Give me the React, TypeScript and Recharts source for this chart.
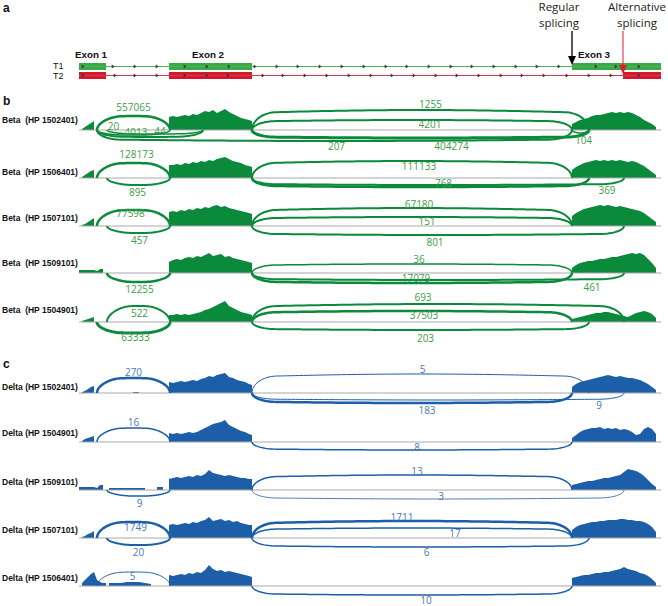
import React from 'react';
import { ComposedChart, Area, Line, Scatter, XAxis, YAxis, ReferenceLine, ReferenceArea } from 'recharts';

document.body.style.margin = '0';

// genomic coordinate (arbitrary units, 0 = exon 1 start)
const LEFT_POS = [0, 3, 6, 9, 12, 15, 18, 21, 24, 27];
const MID_POS = [30, 36, 42, 48, 54, 60, 66, 72, 78, 84];
const E2_POS = [90, 94, 98, 102, 106, 110, 114, 118, 122, 126, 130, 134, 138, 142, 146, 150, 154, 158, 162, 166, 170, 173];
const E3_POS = [493, 497, 501, 505, 509, 513, 517, 521, 525, 529, 533, 537, 541, 545, 549, 553, 557, 561, 565, 569, 573, 577, 581];

// gene model
const T1_EXONS = [[0, 27], [90, 173], [493, 582]];
const T2_EXONS = [[0, 27], [90, 173], [544, 582]];
const T1_CHEVRONS = [4, 34, 56, 78, 106, 128, 150, 176, 198, 219, 241, 263, 285, 307, 328, 350, 372, 393, 415, 437, 458, 480, 517, 537, 560];
const T2_CHEVRONS = [4, 36, 56, 78, 106, 128, 149, 184, 204, 226, 248, 270, 292, 313, 335, 357, 378, 400, 422, 443, 465, 488, 510, 532, 560];
const EXON_LABELS = ['Exon 1', 'Exon 2', 'Exon 3'];
const REGULAR_SITE = 493;
const ALT_SITE = 544;

// Beta samples
const BETA_NAMES = ['Beta  (HP 1502401)', 'Beta  (HP 1506401)', 'Beta  (HP 1507101)', 'Beta  (HP 1509101)', 'Beta  (HP 1504901)'];
const BETA_LEFT = [
  [0, 1, 3, 5, 7, 9, 0, 0, 0, 0],
  [0, 1, 3, 5, 7, 8, 0, 0, 0, 0],
  [0, 1, 2, 4, 6, 8, 0, 0, 0, 0],
  [3, 3, 3, 3, 3, 3, 2, 4, 4, 0],
  [0, 1, 2, 3, 4, 5, 0, 0, 0, 0],
];
const BETA_MID = [
  [0, 0, 0, 0, 0, 0, 0, 0, 0, 0],
  [0, 0, 0, 0, 0, 0, 0, 0, 0, 0],
  [0, 0, 0, 0, 0, 0, 0, 0, 0, 0],
  [0, 0, 0, 1, 0, 0, 0, 0, 1, 0],
  [0, 0, 0, 0, 0, 0, 0, 0, 0, 0],
];
const BETA_E2 = [
  [13, 14, 13, 14, 15, 14, 16, 15, 17, 19, 18, 20, 17, 19, 21, 18, 16, 14, 12, 11, 10, 9],
  [13, 13, 14, 13, 15, 14, 16, 15, 17, 16, 18, 17, 19, 20, 21, 19, 17, 16, 15, 13, 12, 11],
  [14, 15, 14, 16, 15, 17, 16, 18, 17, 19, 18, 20, 21, 19, 20, 18, 17, 16, 15, 14, 13, 12],
  [11, 13, 14, 13, 15, 16, 15, 17, 16, 18, 20, 17, 18, 19, 16, 17, 15, 14, 13, 12, 11, 10],
  [7, 7, 8, 7, 8, 7, 8, 9, 10, 12, 13, 15, 17, 19, 21, 16, 14, 12, 10, 9, 8, 7],
];
const BETA_E3 = [
  [6, 8, 10, 11, 12, 14, 15, 15, 16, 17, 18, 17, 18, 17, 18, 17, 15, 13, 10, 8, 6, 3, 0],
  [8, 11, 13, 15, 16, 17, 18, 17, 18, 17, 18, 17, 18, 17, 16, 17, 16, 14, 12, 9, 6, 3, 0],
  [10, 13, 15, 17, 18, 19, 20, 21, 20, 21, 20, 19, 20, 19, 18, 17, 16, 15, 13, 10, 7, 4, 0],
  [5, 8, 10, 11, 12, 12, 13, 14, 14, 15, 16, 16, 17, 18, 19, 20, 19, 20, 18, 14, 10, 5, 0],
  [3, 4, 5, 6, 7, 8, 9, 9, 10, 10, 9, 8, 7, 6, 5, 7, 9, 10, 11, 10, 8, 4, 0],
];
// [from, to, reads, side]  side 1 = above, -1 = below
const BETA_JUNCTIONS = [
  [[18, 91, 557065, 1], [173, 510, 1255, 1], [173, 493, 4201, 1], [173, 510, 404274, -1], [18, 493, 207, -1], [18, 124, 4013, -1], [18, 91, 20, -1], [28, 124, 44, -1], [493, 510, 104, -1]],
  [[18, 91, 128173, 1], [28, 91, 895, -1], [173, 493, 111133, 1], [173, 510, 768, -1], [173, 545, 369, -1]],
  [[18, 91, 77598, 1], [28, 91, 457, -1], [173, 493, 67180, 1], [173, 493, 151, 1], [173, 545, 801, -1]],
  [[28, 91, 12255, -1], [173, 493, 36, 1], [173, 493, 17079, -1], [173, 545, 461, -1]],
  [[28, 91, 522, 1], [18, 91, 63333, -1], [173, 545, 693, 1], [173, 493, 37503, 1], [173, 510, 203, -1]],
];

// Delta samples
const DELTA_NAMES = ['Delta (HP 1502401)', 'Delta (HP 1504901)', 'Delta (HP 1509101)', 'Delta (HP 1507101)', 'Delta (HP 1506401)'];
const DELTA_LEFT = [
  [0, 1, 2, 4, 6, 7, 0, 0, 0, 0],
  [0, 1, 3, 4, 5, 6, 0, 0, 0, 0],
  [3, 3, 3, 3, 3, 3, 2, 5, 5, 0],
  [0, 1, 2, 4, 5, 7, 0, 0, 0, 0],
  [0, 3, 6, 9, 12, 14, 6, 4, 3, 3],
];
const DELTA_MID = [
  [0, 0, 0, 0, 1, 1, 0, 0, 0, 0],
  [0, 0, 0, 0, 0, 0, 0, 0, 0, 0],
  [2, 2, 2, 2, 2, 2, 2, 0, 3, 3],
  [0, 0, 0, 0, 0, 0, 0, 0, 0, 0],
  [3, 3, 3, 4, 4, 4, 3, 2, 0, 1],
];
const DELTA_E2 = [
  [11, 10, 11, 12, 11, 12, 13, 12, 14, 15, 17, 16, 18, 19, 20, 16, 15, 13, 12, 11, 9, 8],
  [9, 8, 9, 8, 9, 10, 9, 10, 12, 14, 16, 18, 19, 20, 22, 17, 15, 13, 11, 10, 8, 7],
  [11, 12, 13, 12, 13, 14, 13, 15, 14, 16, 20, 17, 16, 15, 14, 15, 14, 13, 12, 12, 11, 11],
  [13, 14, 13, 14, 15, 14, 16, 15, 17, 18, 21, 17, 18, 19, 17, 18, 16, 17, 15, 14, 13, 13],
  [11, 10, 11, 12, 11, 13, 12, 14, 13, 16, 21, 17, 15, 16, 14, 15, 14, 13, 12, 11, 10, 9],
];
const DELTA_E3 = [
  [6, 9, 11, 12, 13, 14, 15, 16, 17, 18, 17, 16, 17, 16, 15, 15, 14, 13, 11, 9, 6, 3, 0],
  [4, 7, 10, 12, 13, 14, 14, 15, 13, 14, 13, 14, 12, 13, 12, 10, 7, 8, 13, 15, 13, 8, 0],
  [5, 6, 7, 8, 9, 9, 10, 11, 12, 12, 13, 14, 15, 18, 21, 20, 19, 17, 14, 10, 6, 3, 0],
  [8, 11, 13, 14, 15, 16, 16, 17, 17, 18, 18, 18, 19, 19, 18, 18, 17, 17, 16, 14, 11, 6, 0],
  [8, 9, 10, 11, 11, 12, 13, 13, 14, 14, 15, 16, 17, 19, 17, 16, 15, 13, 12, 10, 7, 3, 0],
];
const DELTA_JUNCTIONS = [
  [[18, 91, 270, 1], [173, 510, 5, 1], [173, 493, 183, -1], [173, 545, 9, -1]],
  [[18, 91, 16, 1], [173, 493, 8, -1]],
  [[28, 91, 9, -1], [173, 493, 13, 1], [173, 545, 3, -1]],
  [[18, 91, 1749, 1], [28, 91, 20, -1], [173, 493, 1711, 1], [173, 493, 17, 1], [173, 510, 6, -1]],
  [[18, 91, 5, 1], [173, 493, 10, -1]],
];

// drawing style of each arc: [height, strokeWidth, label dx, label y]
const BETA_ARC_STYLE = [
  [[14, 2.5, 0, 23], [20, 2, 10, 26], [10, 2, 18, 6], [8, 3, 31, -16], [11, 2, 2, -16], [7, 2, -14, -2], [5, 1.5, -20, 4], [4, 1.5, 5, -1], [3, 1.5, 3, -10]],
  [[15, 2.5, 3, 24], [7, 2, -1, -14], [17, 2, 7, 12], [9, 2.5, 23, -5], [7, 2, 169, -12]],
  [[16, 2.5, -3, 13], [7, 2, 1, -14], [18, 2, 7, 22], [9, 2, 15, 5], [9, 2, -3, -16]],
  [[9, 2.5, 1, -16], [9, 1.5, 7, 14], [10, 2.5, 4, -5], [7, 2, 154, -14]],
  [[16, 2, 1, 9], [11, 3, 2, -15], [18, 2, -15, 25], [11, 2.5, 12, 7], [8, 2, 5, -16]],
];
const DELTA_ARC_STYLE = [
  [[15, 2.5, 0, 21], [19, 1, 2, 24], [10, 2.5, 15, -17], [7, 1, 161, -12]],
  [[14, 1.5, 0, 20], [8, 1.5, 5, -5]],
  [[6, 1.5, 1, -13], [15, 1.5, 5, 19], [9, 0.8, 3, -6]],
  [[16, 2.5, 2, 11], [7, 2, 0, -14], [17, 2.5, -10, 21], [10, 1.5, 43, 5], [9, 1.5, 6, -14]],
  [[14, 1, -1, 10], [9, 1.5, 14, -14]],
];

const BETA_BASE = [130, 178, 226, 273, 322];
const BETA_LABEL_Y = [120, 172, 218, 263, 310];
const DELTA_BASE = [393, 442, 490, 538, 586];
const DELTA_LABEL_Y = [387, 433, 482, 530, 578];

const BETA = '#0b8a3c';
const BETA_TXT = '#3c9d49';
const DELTA = '#1d5ea8';
const DELTA_TXT = '#4a79b9';
const GREEN = '#3aaa48';
const RED = '#d5182d';

const SPAN = 582;
const MARGIN = { top: 0, right: 7, bottom: 0, left: 79 };
const HALF = 32;
const SANS = "'Liberation Sans', Arial, sans-serif";
const NUM = "'Open Sans', sans-serif";

function coverage(left: number[], mid: number[], e2: number[], e3: number[]) {
  const pts: { x: number; y: number }[] = [];
  const seg = (pos: number[], vals: number[]) => {
    pts.push({ x: pos[0] - 0.01, y: 0 });
    pos.forEach((p, i) => {
      if (i > 0 && vals[i - 1] === 0 && vals[i] > 0) pts.push({ x: p - 0.01, y: 0 });
      pts.push({ x: p, y: vals[i] });
      if (i < pos.length - 1 && vals[i] > 0 && vals[i + 1] === 0) pts.push({ x: p + 0.01, y: 0 });
    });
    pts.push({ x: pos[pos.length - 1] + 0.01, y: 0 });
  };
  seg(LEFT_POS, left);
  seg(MID_POS, mid);
  seg(E2_POS, e2);
  seg(E3_POS, e3);
  return pts;
}

function arcPoints(from: number, to: number, h: number, side: number) {
  const pts: { x: number; y: number }[] = [];
  const n = 90;
  const r = Math.min((to - from) / 2, 24);
  for (let i = 0; i <= n; i++) {
    const x = from + ((to - from) * (1 - Math.cos((Math.PI * i) / n))) / 2;
    const d = Math.min(x - from, to - x);
    const c = d >= r ? 1 : Math.sqrt(Math.max(0, 1 - (1 - d / r) ** 2));
    const u = (x - from) / (to - from);
    const bulge = 0.86 + 0.14 * Math.sin(Math.PI * u);
    pts.push({ x, y: side * h * c * bulge });
  }
  return pts;
}

const Txt = ({ x, y, children, size = 10, bold = false, color = '#111', center = false, family = SANS }: any) => (
  <div
    style={{
      position: 'absolute',
      left: x,
      top: y,
      transform: `translate(${center ? '-50%' : '0'}, -50%)`,
      fontSize: size,
      fontWeight: bold ? 700 : 400,
      color,
      fontFamily: family,
      whiteSpace: 'pre',
      lineHeight: 1,
    }}
  >
    {children}
  </div>
);

const Track = ({ base, left, mid, e2, e3, junctions, styles, color, txtColor }: any) => {
  const cov = coverage(left, mid, e2, e3);
  const arcs = junctions.map((j: number[], i: number) => ({
    pts: arcPoints(j[0], j[1], styles[i][0], j[3]),
    w: styles[i][1],
  }));
  const labels = junctions.map((j: number[], i: number) => ({
    x: (j[0] + j[1]) / 2 + styles[i][2],
    y: styles[i][3],
    text: String(j[2]),
  }));
  return (
    <div style={{ position: 'absolute', left: 0, top: base - HALF }}>
      <ComposedChart width={668} height={HALF * 2} data={cov} margin={MARGIN}>
        <XAxis type="number" dataKey="x" domain={[0, SPAN]} hide allowDataOverflow />
        <YAxis type="number" domain={[-HALF, HALF]} hide allowDataOverflow />
        <ReferenceLine y={0} stroke="#a8a8a8" strokeWidth={1} />
        <Area type="linear" dataKey="y" stroke="none" fill={color} fillOpacity={1} baseValue={0} isAnimationActive={false} />
        {arcs.map((a: any, i: number) => (
          <Line
            key={i}
            data={a.pts}
            dataKey="y"
            type="linear"
            stroke={color}
            strokeWidth={a.w}
            dot={false}
            activeDot={false}
            isAnimationActive={false}
          />
        ))}
        <Scatter
          data={labels}
          dataKey="y"
          isAnimationActive={false}
          shape={(p: any) => (
            <text x={p.cx} y={p.cy} textAnchor="middle" dominantBaseline="central" fontSize={10} fontFamily={NUM} fill={txtColor}>
              {p.payload.text}
            </text>
          )}
        />
      </ComposedChart>
    </div>
  );
};

const ROW1 = 66.5;
const ROW2 = 75.5;

const GeneModel = () => {
  const rows = [
    { y: ROW1, exons: T1_EXONS, chev: T1_CHEVRONS, color: GREEN, line: '#4cb454' },
    { y: ROW2, exons: T2_EXONS, chev: T2_CHEVRONS, color: RED, line: '#dc3a4a' },
  ];
  const chevron = (p: any) => (
    <path d={`M${p.cx - 1.3},${p.cy - 2} L${p.cx + 1.6},${p.cy} L${p.cx - 1.3},${p.cy + 2} Z`} fill="#3a3a3a" />
  );
  const head = (p: any) => (
    <path d={`M${p.cx - 4},${p.cy - 9} L${p.cx + 4},${p.cy - 9} L${p.cx},${p.cy} Z`} fill={p.payload.color} />
  );
  return (
    <div style={{ position: 'absolute', left: 0, top: 0 }}>
      <ComposedChart width={668} height={90} margin={MARGIN}>
        <XAxis type="number" dataKey="x" domain={[0, SPAN]} hide allowDataOverflow />
        <YAxis type="number" domain={[0, 90]} reversed hide allowDataOverflow />
        {rows.map((r, i) => (
          <ReferenceLine key={'l' + i} segment={[{ x: 0, y: r.y }, { x: SPAN, y: r.y }]} stroke={r.line} strokeWidth={1} />
        ))}
        {rows.map((r) =>
          r.exons.map((e, k) => (
            <ReferenceArea
              key={r.y + '-' + k}
              x1={e[0]}
              x2={e[1]}
              y1={r.y - 3.5}
              y2={r.y + 3.5}
              fill={r.color}
              fillOpacity={1}
              stroke="none"
            />
          ))
        )}
        <ReferenceLine segment={[{ x: REGULAR_SITE, y: 31 }, { x: REGULAR_SITE, y: 57 }]} stroke="#000" strokeWidth={1.3} />
        <ReferenceLine segment={[{ x: ALT_SITE, y: 31 }, { x: ALT_SITE, y: 67 }]} stroke="#e3192f" strokeWidth={1} />
        {rows.map((r, i) => (
          <Scatter
            key={'c' + i}
            data={r.chev.map((x) => ({ x, y: r.y }))}
            dataKey="y"
            shape={chevron}
            isAnimationActive={false}
          />
        ))}
        <Scatter
          data={[
            { x: REGULAR_SITE, y: 65, color: '#000' },
            { x: ALT_SITE, y: 74, color: '#e3192f' },
          ]}
          dataKey="y"
          shape={head}
          isAnimationActive={false}
        />
      </ComposedChart>
    </div>
  );
};

export default function App() {
  const exonX = [91, 208, 594];
  return (
    <div style={{ position: 'relative', width: 668, height: 606, overflow: 'hidden', background: '#fff' }}>
      <GeneModel />
      <Txt x={3} y={8} size={12} bold>a</Txt>
      <Txt x={3} y={101} size={12} bold>b</Txt>
      <Txt x={3} y={364} size={12} bold>c</Txt>
      {EXON_LABELS.map((t, i) => (
        <Txt key={t} x={exonX[i]} y={55} size={9.8} bold center>{t}</Txt>
      ))}
      <Txt x={53} y={66} size={9}>T1</Txt>
      <Txt x={53} y={76} size={9}>T2</Txt>
      <div style={{ position: 'absolute', left: 509, top: -1, width: 100, textAlign: 'center', fontFamily: NUM, fontSize: 11.5, lineHeight: '16px', color: '#222' }}>
        Regular<br />splicing
      </div>
      <div style={{ position: 'absolute', left: 587, top: -1, width: 100, textAlign: 'center', fontFamily: NUM, fontSize: 11.5, lineHeight: '16px', color: '#222' }}>
        Alternative<br />splicing
      </div>
      {BETA_NAMES.map((n, i) => (
        <React.Fragment key={n}>
          <Track
            base={BETA_BASE[i]}
            left={BETA_LEFT[i]}
            mid={BETA_MID[i]}
            e2={BETA_E2[i]}
            e3={BETA_E3[i]}
            junctions={BETA_JUNCTIONS[i]}
            styles={BETA_ARC_STYLE[i]}
            color={BETA}
            txtColor={BETA_TXT}
          />
          <Txt x={2} y={BETA_LABEL_Y[i]} size={8.5} bold>{n}</Txt>
        </React.Fragment>
      ))}
      {DELTA_NAMES.map((n, i) => (
        <React.Fragment key={n}>
          <Track
            base={DELTA_BASE[i]}
            left={DELTA_LEFT[i]}
            mid={DELTA_MID[i]}
            e2={DELTA_E2[i]}
            e3={DELTA_E3[i]}
            junctions={DELTA_JUNCTIONS[i]}
            styles={DELTA_ARC_STYLE[i]}
            color={DELTA}
            txtColor={DELTA_TXT}
          />
          <Txt x={2} y={DELTA_LABEL_Y[i]} size={8.5} bold>{n}</Txt>
        </React.Fragment>
      ))}
    </div>
  );
}
